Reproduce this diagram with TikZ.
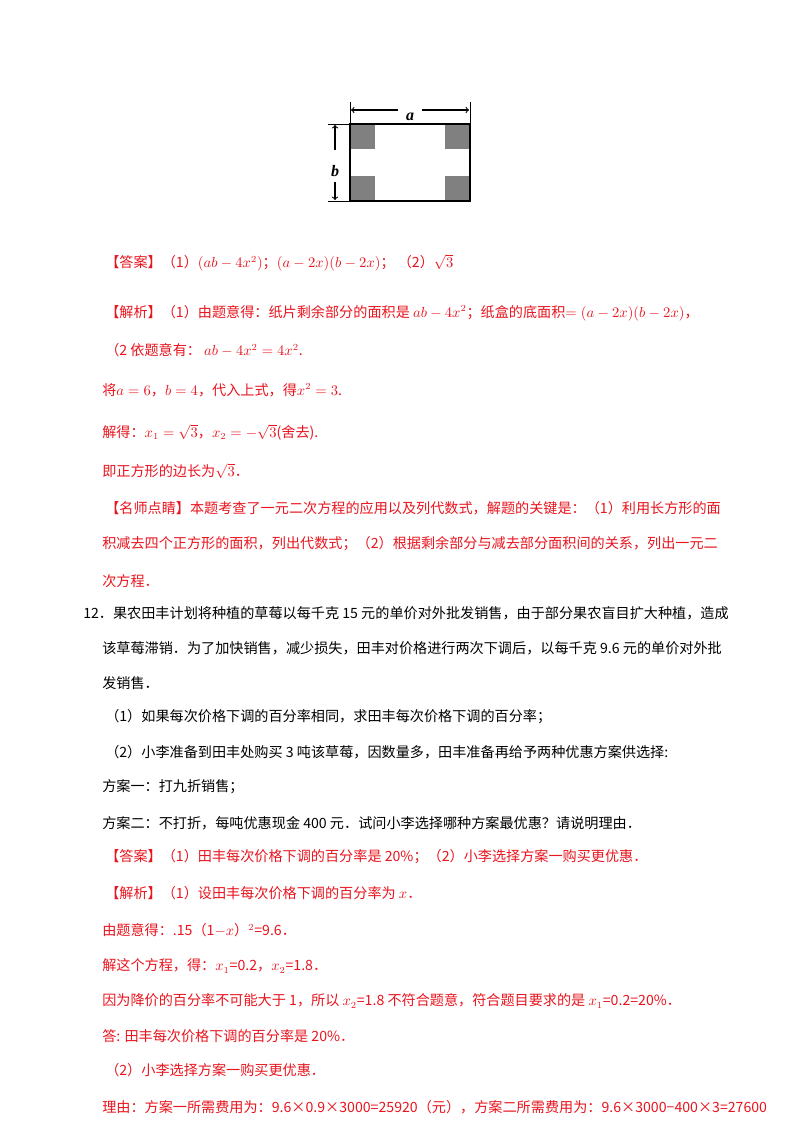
\documentclass[tikz,border=0pt]{standalone}
\usepackage{fontspec}
\usepackage{amsmath}
\setmainfont{Liberation Serif}
\newfontfamily\cjk{Noto Sans CJK SC}
\definecolor{ansred}{RGB}{232,20,30}
\definecolor{cutgray}{RGB}{128,128,128}
\usetikzlibrary{positioning}
\tikzset{
  line/.style={anchor=west, inner sep=0pt, font=\cjk\fontsize{10.6}{13}\selectfont},
  redline/.style={line, text=ansred},
  corner/.style={fill=cutgray, draw=none}
}
\begin{document}
\begin{tikzpicture}[x=0.75pt,y=-0.75pt]
  \useasboundingbox (0,0) rectangle (800,1132);
  % sheet with four cut corners
  \coordinate (tl) at (350,124);
  \coordinate (br) at (470,201);
  \fill[corner] (350,124) rectangle (375,149);
  \fill[corner] (445,124) rectangle (470,149);
  \fill[corner] (350,176) rectangle (375,201);
  \fill[corner] (445,176) rectangle (470,201);
  \draw[thick] (tl) rectangle (br);
  % dimension a
  \draw (350,102) -- (350,124);
  \draw (470,102) -- (470,124);
  \draw[thick, ->] (398,110) -- (351,110);
  \draw[thick, ->] (422,110) -- (469,110);
  \node[inner sep=0pt, font=\large] (la) at (410,117) {\bfseries\itshape a};
  % dimension b
  \draw (328,124) -- (350,124);
  \draw (328,201) -- (350,201);
  \draw[thick, ->] (335,150) -- (335,125);
  \draw[thick, ->] (335,182) -- (335,200);
  \node[inner sep=0pt, font=\large] (lb) at (335,171) {\bfseries\itshape b};

  \node[redline] (ans1) at (105,263) {【答案】（1）$(ab-4x^2)$；$(a-2x)(b-2x)$；\ （2）$\sqrt3$};
  \node[redline] (jx1) at (105,313) {【解析】（1）由题意得：纸片剩余部分的面积是 $ab-4x^2$；纸盒的底面积$=(a-2x)(b-2x)$，};
  \node[redline] (jx2) at (105,350) {（2 依题意有：\ $ab-4x^2=4x^2$.};
  \node[redline] (jx3) at (102,390) {将$a=6$，$b=4$，代入上式，得$x^2=3$.};
  \node[redline] (jx4) at (102,432) {解得：$x_1=\sqrt3$，$x_2=-\sqrt3$(舍去).};
  \node[redline] (jx5) at (102,471) {即正方形的边长为$\sqrt3$．};
  \node[redline] (ms1) at (105,508) {【名师点睛】本题考查了一元二次方程的应用以及列代数式，解题的关键是：（1）利用长方形的面};
  \node[redline] (ms2) at (102,544) {积减去四个正方形的面积，列出代数式；（2）根据剩余部分与减去部分面积间的关系，列出一元二};
  \node[redline] (ms3) at (102,581) {次方程．};

  \node[line] (q1) at (83,613) {12．果农田丰计划将种植的草莓以每千克 15 元的单价对外批发销售，由于部分果农盲目扩大种植，造成};
  \node[line] (q2) at (102,648) {该草莓滞销．为了加快销售，减少损失，田丰对价格进行两次下调后，以每千克 9.6 元的单价对外批};
  \node[line] (q3) at (102,683) {发销售．};
  \node[line] (q4) at (105,717) {（1）如果每次价格下调的百分率相同，求田丰每次价格下调的百分率；};
  \node[line] (q5) at (105,752) {（2）小李准备到田丰处购买 3 吨该草莓，因数量多，田丰准备再给予两种优惠方案供选择:};
  \node[line] (q6) at (102,787) {方案一：打九折销售；};
  \node[line] (q7) at (102,823) {方案二：不打折，每吨优惠现金 400 元．试问小李选择哪种方案最优惠？请说明理由．};
  \node[redline] (a1) at (105,857) {【答案】（1）田丰每次价格下调的百分率是 20\%；（2）小李选择方案一购买更优惠．};
  \node[redline] (a2) at (105,893) {【解析】（1）设田丰每次价格下调的百分率为 $x$．};
  \node[redline] (a3) at (102,930) {由题意得：.15（1$-x$）$^2$=9.6．};
  \node[redline] (a4) at (102,966) {解这个方程，得：$x_1$=0.2，$x_2$=1.8．};
  \node[redline] (a5) at (102,1001) {因为降价的百分率不可能大于 1，所以 $x_2$=1.8 不符合题意，符合题目要求的是 $x_1$=0.2=20\%．};
  \node[redline] (a6) at (102,1036) {答: 田丰每次价格下调的百分率是 20\%．};
  \node[redline] (a7) at (105,1070) {（2）小李选择方案一购买更优惠．};
  \node[redline] (a8) at (102,1107) {理由：方案一所需费用为：9.6×0.9×3000=25920（元），方案二所需费用为：9.6×3000−400×3=27600};
\end{tikzpicture}
\end{document}
